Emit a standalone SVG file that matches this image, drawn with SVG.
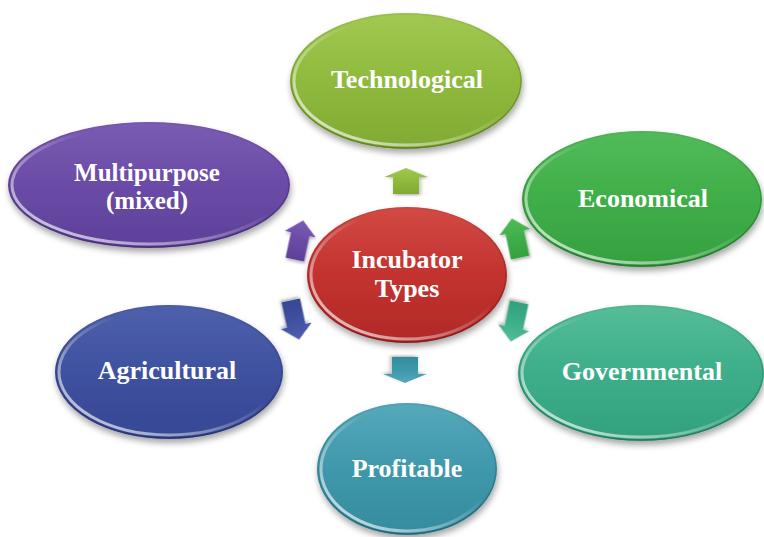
<svg xmlns="http://www.w3.org/2000/svg" width="764" height="537" viewBox="0 0 764 537">
  <defs>
    <filter id="shadow" x="-20%" y="-20%" width="140%" height="150%">
      <feDropShadow dx="1" dy="4" stdDeviation="3" flood-color="#000" flood-opacity="0.35"/>
    </filter>
    <filter id="ashadow" x="-40%" y="-40%" width="180%" height="180%">
      <feDropShadow dx="1" dy="2" stdDeviation="1.5" flood-color="#000" flood-opacity="0.3"/>
    </filter>
    <!-- body fills: lighter top, base colour below -->
    <linearGradient id="gRed" x1="0" y1="0" x2="0" y2="1">
      <stop offset="0" stop-color="#d24a45"/><stop offset="0.5" stop-color="#c3322f"/><stop offset="1" stop-color="#b02a28"/>
    </linearGradient>
    <linearGradient id="gLime" x1="0" y1="0" x2="0" y2="1">
      <stop offset="0" stop-color="#a2c852"/><stop offset="0.5" stop-color="#8fba3d"/><stop offset="1" stop-color="#80aa33"/>
    </linearGradient>
    <linearGradient id="gGreen" x1="0" y1="0" x2="0" y2="1">
      <stop offset="0" stop-color="#52bb5a"/><stop offset="0.5" stop-color="#3fae48"/><stop offset="1" stop-color="#35a040"/>
    </linearGradient>
    <linearGradient id="gTeal" x1="0" y1="0" x2="0" y2="1">
      <stop offset="0" stop-color="#55bd98"/><stop offset="0.5" stop-color="#3dae8a"/><stop offset="1" stop-color="#33a07d"/>
    </linearGradient>
    <linearGradient id="gCyan" x1="0" y1="0" x2="0" y2="1">
      <stop offset="0" stop-color="#55a9ba"/><stop offset="0.5" stop-color="#3f98ab"/><stop offset="1" stop-color="#358b9e"/>
    </linearGradient>
    <linearGradient id="gBlue" x1="0" y1="0" x2="0" y2="1">
      <stop offset="0" stop-color="#4f60ab"/><stop offset="0.5" stop-color="#3f51a0"/><stop offset="1" stop-color="#364793"/>
    </linearGradient>
    <linearGradient id="gPurple" x1="0" y1="0" x2="0" y2="1">
      <stop offset="0" stop-color="#7a5cb3"/><stop offset="0.5" stop-color="#6a4ba6"/><stop offset="1" stop-color="#5d4099"/>
    </linearGradient>
    <!-- glossy rim light along the lower-left edge -->
    <linearGradient id="rim" x1="0" y1="1" x2="1" y2="0">
      <stop offset="0" stop-color="#fff" stop-opacity="0.85"/>
      <stop offset="0.35" stop-color="#fff" stop-opacity="0.35"/>
      <stop offset="0.6" stop-color="#fff" stop-opacity="0"/>
    </linearGradient>
    <linearGradient id="edge" x1="0" y1="0" x2="0" y2="1">
      <stop offset="0" stop-color="#000" stop-opacity="0.05"/>
      <stop offset="1" stop-color="#000" stop-opacity="0.25"/>
    </linearGradient>
    <path id="arrowUp" d="M0,-20 L15,-6 L9,-6 L9,20 L-9,20 L-9,-6 L-15,-6 Z"/>
  </defs>
  <style>
    .body { filter: url(#shadow); }
    .edge { fill: none; stroke: url(#edge); stroke-width: 1.5; }
    .rim { fill: none; stroke: url(#rim); stroke-width: 3; }
    .arr { filter: url(#ashadow); }
  </style>

  <rect width="764" height="537" fill="#ffffff"/>

  <!-- connectors: block arrows radiating from the hub -->
  <g id="connectors">
    <use href="#arrowUp" class="arr" fill="url(#gLime)" transform="translate(406,181) scale(1.45,0.65)"/>
    <use href="#arrowUp" class="arr" fill="url(#gGreen)" transform="translate(516,238) rotate(-12) scale(1.05,1)"/>
    <use href="#arrowUp" class="arr" fill="url(#gTeal)" transform="translate(515,322) rotate(192) scale(1.05,1)"/>
    <use href="#arrowUp" class="arr" fill="url(#gCyan)" transform="translate(405,370) rotate(180) scale(1.45,0.65)"/>
    <use href="#arrowUp" class="arr" fill="url(#gBlue)" transform="translate(295,320) rotate(168) scale(1.05,1)"/>
    <use href="#arrowUp" class="arr" fill="url(#gPurple)" transform="translate(299,240) rotate(12) scale(1.05,1)"/>
  </g>

  <g font-family="Liberation Serif, Times New Roman, DejaVu Serif, serif" font-weight="bold" font-size="26" fill="#ffffff" text-anchor="middle">
    <g id="node-technological">
      <ellipse class="body" cx="406" cy="81" rx="116" ry="68" fill="url(#gLime)"/>
      <ellipse class="edge" cx="406" cy="81" rx="115" ry="67"/>
      <ellipse class="rim" cx="406" cy="81" rx="112" ry="64"/>
      <text x="407" y="88">Technological</text>
    </g>

    <g id="node-economical">
      <ellipse class="body" cx="642" cy="199" rx="120" ry="68" fill="url(#gGreen)"/>
      <ellipse class="edge" cx="642" cy="199" rx="119" ry="67"/>
      <ellipse class="rim" cx="642" cy="199" rx="116" ry="64"/>
      <text x="643" y="207">Economical</text>
    </g>

    <g id="node-governmental">
      <ellipse class="body" cx="641" cy="373" rx="123" ry="68" fill="url(#gTeal)"/>
      <ellipse class="edge" cx="641" cy="373" rx="122" ry="67"/>
      <ellipse class="rim" cx="641" cy="373" rx="119" ry="64"/>
      <text x="642" y="380">Governmental</text>
    </g>

    <g id="node-profitable">
      <ellipse class="body" cx="407" cy="469" rx="90" ry="66" fill="url(#gCyan)"/>
      <ellipse class="edge" cx="407" cy="469" rx="89" ry="65"/>
      <ellipse class="rim" cx="407" cy="469" rx="86" ry="62"/>
      <text x="407" y="477">Profitable</text>
    </g>

    <g id="node-agricultural">
      <ellipse class="body" cx="169" cy="372" rx="114" ry="67" fill="url(#gBlue)"/>
      <ellipse class="edge" cx="169" cy="372" rx="113" ry="66"/>
      <ellipse class="rim" cx="169" cy="372" rx="110" ry="63"/>
      <text x="167" y="379">Agricultural</text>
    </g>

    <g id="node-multipurpose">
      <ellipse class="body" cx="149" cy="185" rx="141" ry="63" fill="url(#gPurple)"/>
      <ellipse class="edge" cx="149" cy="185" rx="140" ry="62"/>
      <ellipse class="rim" cx="149" cy="185" rx="137" ry="59"/>
      <text x="147" y="181" font-size="25">Multipurpose</text>
      <text x="147" y="209" font-size="25">(mixed)</text>
    </g>

    <g id="node-hub">
      <ellipse class="body" cx="407" cy="275" rx="100" ry="68" fill="url(#gRed)"/>
      <ellipse class="edge" cx="407" cy="275" rx="99" ry="67"/>
      <ellipse class="rim" cx="407" cy="275" rx="96" ry="64"/>
      <text x="407" y="268">Incubator</text>
      <text x="407" y="297">Types</text>
    </g>
  </g>
</svg>
